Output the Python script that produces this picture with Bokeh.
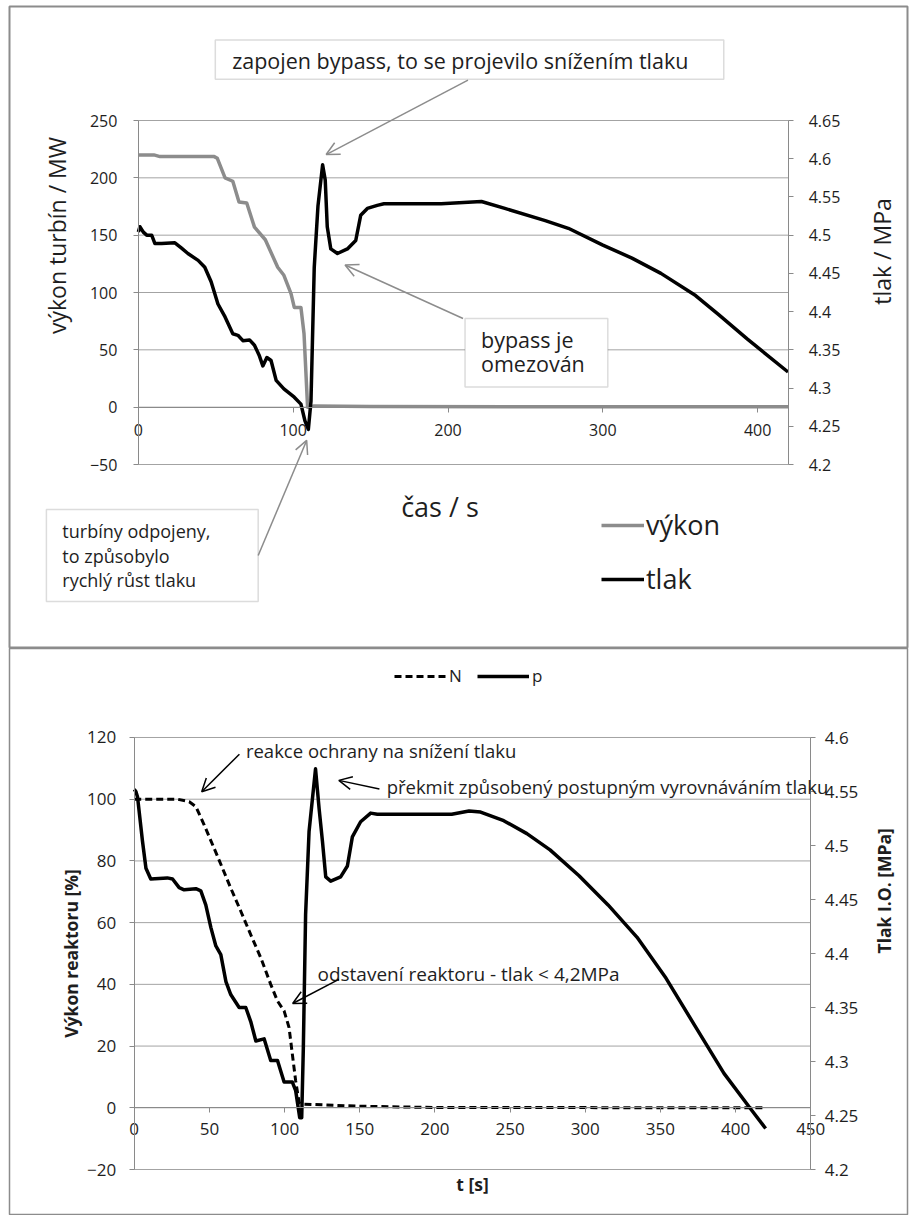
import math
from bokeh.plotting import figure
from bokeh.models import (Range1d, LinearAxis, FixedTicker, Legend, LegendItem, Label,
                          Arrow, OpenHead, BoxAnnotation)
from bokeh.layouts import column
from bokeh.embed import file_html
from bokeh.resources import INLINE

# ---------------- data: top chart ----------------
top_t_vykon = [0, 10, 14, 49, 51, 56, 61, 65, 70, 75, 82, 90, 94, 98.6, 100.7, 105, 107, 109.3, 113.6, 150, 420]
top_vykon = [220, 220, 218.5, 218.5, 217, 200, 197, 179, 178, 157, 146, 122, 115, 99, 87, 87, 64, 0, 1, 0.5, 0.3]

top_t_tlak = [0, 1, 3.2, 5.4, 8.6, 10.7, 15, 23.6, 27.9, 32, 38.6, 42.9, 47, 51.4, 56, 61, 64.3, 67.5, 71.8, 75,
              78, 80.4, 83, 85.7, 89, 94, 100.7, 105, 107.6, 109.8, 111.5, 113.6, 116, 119, 120.7, 122, 124.3,
              128.6, 135, 140.4, 143.6, 147.9, 154.3, 158.6, 195.6, 221.6, 236.7, 262.8, 277.7, 300, 318.8,
              337.5, 359.9, 374.8, 393.4, 419.6]
top_tlak = [4.504, 4.511, 4.504, 4.500, 4.500, 4.489, 4.489, 4.490, 4.483, 4.476, 4.467, 4.458, 4.439, 4.410,
            4.393, 4.371, 4.369, 4.362, 4.363, 4.356, 4.343, 4.329, 4.340, 4.336, 4.310, 4.299, 4.288, 4.279,
            4.257, 4.246, 4.283, 4.458, 4.538, 4.592, 4.572, 4.511, 4.482, 4.476, 4.482, 4.493, 4.526, 4.535,
            4.539, 4.541, 4.541, 4.544, 4.535, 4.519, 4.509, 4.487, 4.470, 4.450, 4.421, 4.396, 4.364, 4.321]

top_x_axis = (0, 420)
top_xticks = [0, 100, 200, 300, 400]
top_y_axis = (-50, 250)
top_yticks = [-50, 0, 50, 100, 150, 200, 250]
top_p_axis = (4.2, 4.65)
top_pticks = [4.2, 4.25, 4.3, 4.35, 4.4, 4.45, 4.5, 4.55, 4.6, 4.65]
top_plabels = ["4.2", "4.25", "4.3", "4.35", "4.4", "4.45", "4.5", "4.55", "4.6", "4.65"]

# ---------------- data: bottom chart ----------------
bot_t_N = [0, 28.8, 36.6, 41, 46.5, 55.4, 64.2, 70.9, 77.5, 84.2, 90.8, 95.3, 99.7, 103, 105.2, 107.4, 109.7,
           111.9, 150, 200, 420]
bot_N = [100, 100, 99.2, 97.6, 91.7, 81.5, 71.2, 63.7, 56.1, 48.6, 40, 34.6, 31.4, 26, 17.3, 8.7, 1.7, 1.2,
         0.5, 0.1, 0]

bot_t_p = [0, 1.1, 2.2, 5.5, 7.8, 11, 22, 25.5, 29.9, 33.2, 41, 44.3, 47.6, 51, 54.3, 57.6, 61, 64.2, 69.8,
           74.2, 77.5, 80.9, 86.4, 90.8, 95.3, 99.7, 105.2, 107.4, 110.1, 111.4, 112.5, 114, 116.3, 120.6, 123,
           125.2, 127.4, 130.7, 137.3, 141.8, 145.1, 150.6, 157.3, 161.7, 211.2, 222.7, 230.4, 245.8, 261.2,
           276.6, 295.9, 315.2, 334.5, 353.8, 373, 392.3, 409.6, 420]
bot_p = [4.552, 4.550, 4.545, 4.504, 4.479, 4.469, 4.470, 4.469, 4.461, 4.459, 4.460, 4.458, 4.445, 4.424,
         4.407, 4.399, 4.374, 4.362, 4.350, 4.350, 4.337, 4.319, 4.321, 4.301, 4.301, 4.281, 4.281, 4.273,
         4.248, 4.248, 4.313, 4.436, 4.513, 4.571, 4.534, 4.504, 4.471, 4.467, 4.471, 4.481, 4.508, 4.522,
         4.530, 4.529, 4.529, 4.532, 4.531, 4.523, 4.511, 4.496, 4.472, 4.445, 4.415, 4.377, 4.333, 4.289,
         4.257, 4.238]

bot_x_axis = (0, 450)
bot_xticks = [0, 50, 100, 150, 200, 250, 300, 350, 400, 450]
bot_y_axis = (-20, 120)
bot_yticks = [-20, 0, 20, 40, 60, 80, 100, 120]
bot_p_axis = (4.2, 4.6)
bot_pticks = [4.2, 4.25, 4.3, 4.35, 4.4, 4.45, 4.5, 4.55, 4.6]
bot_plabels = ["4.2", "4.25", "4.3", "4.35", "4.4", "4.45", "4.5", "4.55", "4.6"]

FONT = "Open Sans"
GRID = "#a3a3a3"
AXIS = "#8a8a8a"
TXT = "#1e1e1e"
FRAME = "#8c8c8c"


def style_axis(ax, label_std, tick_std, label_font_size, bold=False, font_size="16px"):
    ax.axis_line_color = AXIS
    ax.major_tick_line_color = AXIS
    ax.major_tick_out = 5
    ax.major_tick_in = 0
    ax.minor_tick_line_color = None
    ax.major_label_standoff = tick_std
    ax.major_label_text_font = FONT
    ax.major_label_text_font_size = font_size
    ax.major_label_text_color = TXT
    ax.axis_label_text_font = FONT
    ax.axis_label_text_font_size = label_font_size
    ax.axis_label_text_font_style = "bold" if bold else "normal"
    ax.axis_label_text_color = TXT
    ax.axis_label_standoff = label_std


def lab(p, x, y, text, size, color=TXT, bold=False, angle=0.0, align="left"):
    p.add_layout(Label(x=x, y=y, text=text, text_font=FONT, text_font_size=size, text_color=color,
                       text_baseline="middle", text_align=align, angle=angle,
                       text_font_style="bold" if bold else "normal"))


# ================= TOP FIGURE =================
p1 = figure(width=909, height=648, x_range=Range1d(-83.226, 496.77), y_range=Range1d(-209.59, 349.42),
            output_backend="svg", toolbar_location=None,
            min_border_left=8, min_border_right=2, min_border_top=6, min_border_bottom=1)
p1.extra_y_ranges = {"p": Range1d(3.96061, 4.79913)}
p1.outline_line_color = FRAME
p1.outline_line_width = 2
p1.xgrid.visible = False
p1.ygrid.visible = False

p1.segment(x0=[top_x_axis[0]] * len(top_yticks), x1=[top_x_axis[1]] * len(top_yticks),
           y0=top_yticks, y1=top_yticks, line_color=GRID, line_width=1)

ya = p1.yaxis[0]
ya.ticker = FixedTicker(ticks=top_yticks)
ya.fixed_location = top_x_axis[0]
ya.bounds = top_y_axis
style_axis(ya, 15, 16, "23px")

xa = p1.xaxis[0]
xa.ticker = FixedTicker(ticks=top_xticks)
xa.fixed_location = 0
xa.bounds = (top_x_axis[0], top_xticks[-1])
style_axis(xa, 50, 12, "27px")

ra = LinearAxis(y_range_name="p", ticker=FixedTicker(ticks=top_pticks),
                major_label_overrides=dict(zip(top_pticks, top_plabels)))
ra.fixed_location = top_x_axis[1]
ra.bounds = top_p_axis
style_axis(ra, 26, 15, "23px")
p1.add_layout(ra, "right")

# axis titles (placed as in the original, off-centre)
lab(p1, -52.3, 149.7, "výkon turbín / MW", "23px", angle=math.pi / 2, align="center")
lab(p1, 480.0, 135.8, "tlak / MPa", "23px", angle=math.pi / 2, align="center")
lab(p1, 194.8, -86.6, "čas / s", "27px", align="center")

r_vykon = p1.line(top_t_vykon, top_vykon, line_color="#8c8c8c", line_width=3.5, line_join="round")
r_tlak = p1.line(top_t_tlak, top_tlak, y_range_name="p", line_color="black", line_width=3.5, line_join="round")

leg1 = Legend(items=[LegendItem(label="výkon", renderers=[r_vykon]),
                     LegendItem(label="tlak", renderers=[r_tlak])],
              location=(592, 50), orientation="vertical", glyph_width=43, glyph_height=20,
              label_standoff=2, spacing=17, padding=0, margin=0, border_line_color=None,
              background_fill_alpha=0, label_text_font=FONT, label_text_font_size="27px",
              label_text_color=TXT)
p1.add_layout(leg1)

ANN = "#8c8c8c"
p1.add_layout(BoxAnnotation(left=49.7, right=378.1, bottom=285.9, top=320.1, fill_color="white",
                            fill_alpha=1, line_color=ANN, line_width=1.5))
p1.add_layout(BoxAnnotation(left=211, right=303.2, bottom=17.6, top=77.3, fill_color="white",
                            fill_alpha=1, line_color=ANN, line_width=1.5))
p1.add_layout(BoxAnnotation(left=-59.4, right=77.4, bottom=-169.5, top=-89.2, fill_color="white",
                            fill_alpha=1, line_color=ANN, line_width=1.5))

lab(p1, 60.6, 302.3, "zapojen bypass, to se projevilo snížením tlaku", "21.5px")
lab(p1, 221.3, 59.2, "bypass je", "21.5px")
lab(p1, 221.3, 37.8, "omezován", "21.5px")
lab(p1, -49.1, -108.1, "turbíny odpojeny,", "18px")
lab(p1, -49.1, -129.4, "to způsobylo", "18px")
lab(p1, -49.1, -150.8, "rychlý růst tlaku", "18px")

for xs, ys, xe, ye in [(212.9, 285.2, 121.3, 220.3), (209.7, 77.3, 133.5, 124.0), (77.4, -129.4, 108.7, -29.0)]:
    p1.add_layout(Arrow(end=OpenHead(size=13, line_color=ANN, line_width=1.5),
                        x_start=xs, y_start=ys, x_end=xe, y_end=ye, line_color=ANN, line_width=1.5))

# ================= BOTTOM FIGURE =================
p2 = figure(width=909, height=567, x_range=Range1d(-82.965, 514.38), y_range=Range1d(-34.907, 148.84),
            output_backend="svg", toolbar_location=None,
            min_border_left=9, min_border_right=0, min_border_top=0, min_border_bottom=0)
p2.extra_y_ranges = {"p": Range1d(4.15741, 4.68241)}
p2.outline_line_color = FRAME
p2.outline_line_width = 1.5
p2.xgrid.visible = False
p2.ygrid.visible = False

p2.segment(x0=[bot_x_axis[0]] * len(bot_yticks), x1=[bot_x_axis[1]] * len(bot_yticks),
           y0=bot_yticks, y1=bot_yticks, line_color=GRID, line_width=1)

ya2 = p2.yaxis[0]
ya2.ticker = FixedTicker(ticks=bot_yticks)
ya2.fixed_location = bot_x_axis[0]
ya2.bounds = bot_y_axis
ya2.axis_label = "Výkon reaktoru [%]"
style_axis(ya2, 1, 13, "17.5px", bold=True, font_size="17px")

xa2 = p2.xaxis[0]
xa2.ticker = FixedTicker(ticks=bot_xticks)
xa2.fixed_location = 0
xa2.bounds = bot_x_axis
xa2.axis_label = "t [s]"
style_axis(xa2, 34, 10, "17.5px", bold=True, font_size="17px")

ra2 = LinearAxis(y_range_name="p", ticker=FixedTicker(ticks=bot_pticks),
                 major_label_overrides=dict(zip(bot_pticks, bot_plabels)))
ra2.fixed_location = bot_x_axis[1]
ra2.bounds = bot_p_axis
ra2.axis_label = "Tlak I.O. [MPa]"
ra2.axis_label_orientation = math.pi / 2
style_axis(ra2, 23, 9, "17.5px", bold=True, font_size="17px")
p2.add_layout(ra2, "right")

r_N = p2.line(bot_t_N, bot_N, line_color="black", line_width=3, line_dash="7 4")
r_p = p2.line(bot_t_p, bot_p, y_range_name="p", line_color="black", line_width=3.5, line_join="round")

leg2 = Legend(items=[LegendItem(label="N", renderers=[r_N]), LegendItem(label="p", renderers=[r_p])],
              location=(385, 528), orientation="horizontal", glyph_width=52, glyph_height=16,
              label_standoff=3, spacing=8, padding=0, margin=0, border_line_color=None,
              background_fill_alpha=0, label_text_font=FONT, label_text_font_size="17px",
              label_text_color=TXT)
p2.add_layout(leg2)

lab(p2, 74.3, 115.8, "reakce ochrany na snížení tlaku", "18.5px")
lab(p2, 167.9, 104.25, "překmit způsobený postupným vyrovnáváním tlaku", "18.5px")
lab(p2, 121.9, 43.3, "odstavení  reaktoru - tlak < 4,2MPa", "19px")

for xs, ys, xe, ye in [(69.95, 114.6, 44.9, 102.4), (163.1, 103.3, 136.1, 106.1), (136.1, 41.6, 105.4, 33.8)]:
    p2.add_layout(Arrow(end=OpenHead(size=13, line_color="black", line_width=1.5),
                        x_start=xs, y_start=ys, x_end=xe, y_end=ye, line_color="black", line_width=1.5))

layout = column(p1, p2, spacing=0)
open("out.html", "w").write(file_html(layout, INLINE))
